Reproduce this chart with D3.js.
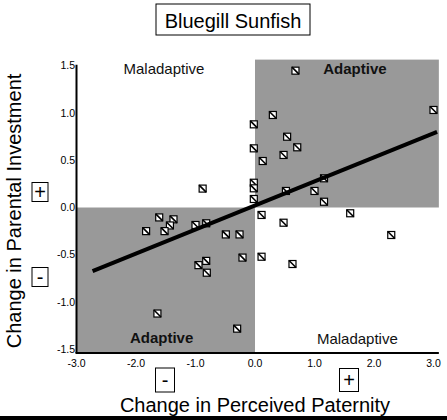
<!DOCTYPE html>
<html><head><meta charset="utf-8">
<script src="https://cdn.jsdelivr.net/npm/d3@7"></script>
<style>html,body{margin:0;padding:0;background:#fff;}svg{display:block;}</style>
</head><body><div id="chart"></div>
<script>
// ---- data ----
const titleText = "Bluegill Sunfish";
const xTitle = "Change in Perceived Paternity";
const yTitle = "Change in Parental Investment";
const xTicks = [-3, -2, -1, 0, 1, 2, 3];
const yTicks = [-1.5, -1.0, -0.5, 0.0, 0.5, 1.0, 1.5];
const paternity = [0.68, 0.30, -0.02, 0.54, 0.71, -0.02, 0.48, 0.13, 3.00, -0.02, -0.02, -0.02, 0.52, 1.16, 1.00, 1.16,
  0.11, 0.48, 1.60, 2.29, 0.11, 0.63,
  -0.88,
  -1.61, -1.37, -1.43, -1.83, -1.52, -1.00, -0.82, -0.49, -0.26, -0.21, -0.95, -0.82, -0.81, -1.64, -0.30];
const investment = [1.448, 0.979, 0.880, 0.749, 0.637, 0.626, 0.556, 0.492, 1.032, 0.262, 0.203, 0.090, 0.175, 0.309, 0.175, 0.061,
  -0.079, -0.161, -0.061, -0.291, -0.521, -0.598,
  0.20,
  -0.105, -0.125, -0.19, -0.25, -0.25, -0.185, -0.167, -0.285, -0.285, -0.53, -0.61, -0.565, -0.69, -1.122, -1.282];
const fitX = [-2.73, 3.06];
const fitY = [-0.673, 0.80];
const quadrantLabels = [
  {text: "Maladaptive", x: -1.53, y: 1.41, bold: false},
  {text: "Adaptive", x: 1.68, y: 1.41, bold: true},
  {text: "Adaptive", x: -1.57, y: -1.43, bold: true},
  {text: "Maladaptive", x: 1.72, y: -1.44, bold: false}
];
const xExtent = [-3.0, 3.09];
const yExtent = [-1.54, 1.565];

// ---- chart ----
const W = 447, H = 420;
const svg = d3.select("#chart").append("svg").attr("width", W).attr("height", H)
  .style("font-family", "Liberation Sans, Arial, sans-serif");
const x = d3.scaleLinear().domain([-3, 3]).range([76.5, 433.5]);
const y = d3.scaleLinear().domain([-1.5, 1.5]).range([349.25, 65.75]);

// shaded adaptive quadrants
svg.append("rect").attr("x", x(0)).attr("y", y(yExtent[1]))
  .attr("width", x(xExtent[1]) - x(0)).attr("height", y(0) - y(yExtent[1])).attr("fill", "#999999");
svg.append("rect").attr("x", x(xExtent[0])).attr("y", y(0))
  .attr("width", x(0) - x(xExtent[0])).attr("height", y(yExtent[0]) - y(0)).attr("fill", "#999999");

// axes lines
svg.append("line").attr("x1", x(xExtent[0])).attr("x2", x(xExtent[0]))
  .attr("y1", y(1.5) - 1).attr("y2", y(yExtent[0])).attr("stroke", "#000").attr("stroke-width", 2);
svg.append("line").attr("x1", x(xExtent[0]) - 1).attr("x2", x(xExtent[1]))
  .attr("y1", y(yExtent[0])).attr("y2", y(yExtent[0])).attr("stroke", "#000").attr("stroke-width", 2);

// tick labels
svg.append("g").selectAll("text").data(yTicks).join("text")
  .attr("x", 75).attr("y", d => y(d)).attr("dy", "0.35em").attr("text-anchor", "end")
  .attr("font-size", 10.5).text(d => d.toFixed(1));
svg.append("g").selectAll("text").data(xTicks).join("text")
  .attr("x", d => x(d)).attr("y", 367).attr("text-anchor", "middle")
  .attr("font-size", 10.5).text(d => d.toFixed(1));

// quadrant labels
svg.append("g").selectAll("text").data(quadrantLabels).join("text")
  .attr("x", d => x(d.x)).attr("y", d => y(d.y)).attr("text-anchor", "middle")
  .attr("font-size", 15).attr("font-weight", d => d.bold ? "bold" : "normal")
  .attr("fill", "#111").text(d => d.text);

// points
const pts = paternity.map((p, i) => ({x: p, y: investment[i]}));
const s = 7;
const g = svg.append("g").selectAll("g").data(pts).join("g")
  .attr("transform", d => `translate(${x(d.x)},${y(d.y)})`);
g.append("rect").attr("x", -s/2).attr("y", -s/2).attr("width", s).attr("height", s)
  .attr("fill", "#fff").attr("stroke", "#000").attr("stroke-width", 1.2);
g.append("line").attr("x1", -s/2).attr("y1", -s/2).attr("x2", s/2).attr("y2", s/2)
  .attr("stroke", "#000").attr("stroke-width", 1.6);

// regression line
svg.append("line").attr("x1", x(fitX[0])).attr("y1", y(fitY[0]))
  .attr("x2", x(fitX[1])).attr("y2", y(fitY[1]))
  .attr("stroke", "#000").attr("stroke-width", 4);

// title
svg.append("rect").attr("x", 156).attr("y", 4).attr("width", 154).attr("height", 31)
  .attr("fill", "#fff").attr("stroke", "#000").attr("stroke-width", 1);
svg.append("text").attr("x", 233).attr("y", 27.5).attr("text-anchor", "middle")
  .attr("font-size", 20).text(titleText);

// axis titles
svg.append("text").attr("x", 255).attr("y", 412).attr("text-anchor", "middle")
  .attr("font-size", 20).text(xTitle);
svg.append("text").attr("transform", "translate(21,211) rotate(-90)").attr("text-anchor", "middle")
  .attr("font-size", 20).text(yTitle);

// sign boxes
function signBox(cx, cy, w, h, t) {
  svg.append("rect").attr("x", cx - w/2).attr("y", cy - h/2).attr("width", w).attr("height", h)
    .attr("fill", "#fff").attr("stroke", "#000").attr("stroke-width", 1);
  svg.append("text").attr("x", cx).attr("y", cy).attr("dy", "0.36em").attr("text-anchor", "middle")
    .attr("font-size", 20).text(t);
}
signBox(40, 192, 16, 19, "+");
signBox(40, 277, 16, 19, "-");
signBox(165, 380, 19, 24, "-");
signBox(349, 380, 19, 23, "+");

// bottom band
svg.append("rect").attr("x", 0).attr("y", 416).attr("width", W).attr("height", 4).attr("fill", "#000");
</script></body></html>
